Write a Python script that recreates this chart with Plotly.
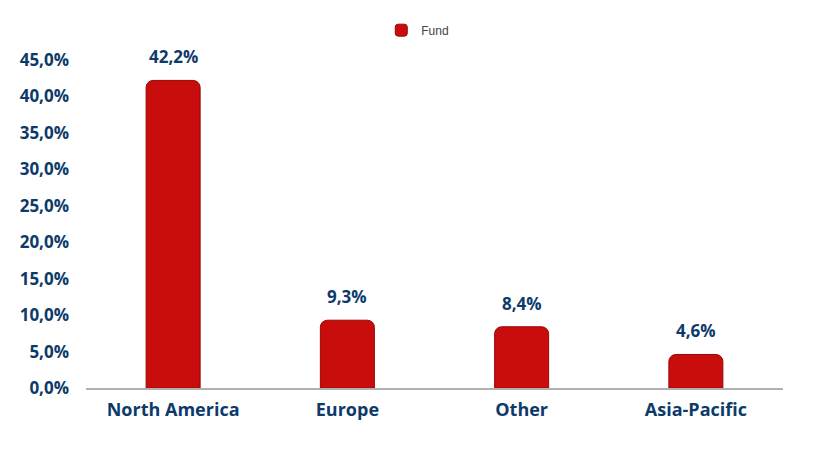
import plotly.graph_objects as go

regions = ["North America", "Europe", "Other", "Asia-Pacific"]
fund = [42.2, 9.3, 8.4, 4.6]
tick_vals = [0, 5, 10, 15, 20, 25, 30, 35, 40, 45]
tick_text = ["0,0%", "5,0%", "10,0%", "15,0%", "20,0%", "25,0%", "30,0%", "35,0%", "40,0%", "45,0%"]

navy = "#0d3a6b"
labels = [f"{v:.1f}%".replace(".", ",") for v in fund]
font_main = "Open Sans"

fig = go.Figure()
fig.add_trace(go.Bar(
    x=regions, y=fund, name="Fund",
    marker=dict(color="#c90c0c", line=dict(color="#9a0606", width=1), cornerradius=7),
    showlegend=True,
))

# value labels sit well above each bar
for r, v, t in zip(regions, fund, labels):
    fig.add_annotation(x=r, y=v, text=t, showarrow=False, yanchor="bottom", yshift=10,
                       font=dict(family=font_main, size=17, color=navy, weight="bold"))

# page body has an 8px margin, so margins are trimmed by that
fig.update_layout(
    width=828, height=472,
    margin=dict(l=78, r=53, t=52, b=92, autoexpand=False),
    plot_bgcolor="white", paper_bgcolor="white",
    bargap=0.69,
    showlegend=True,
    legend=dict(orientation="h", x=0.476, xanchor="center", y=0.953, yanchor="middle",
                yref="container", font=dict(family="Liberation Sans", size=12, color="#444444"),
                itemwidth=30),
)
fig.update_xaxes(showline=True, linecolor="#b0b0b0", linewidth=2, ticks="", ticklabelstandoff=4,
                 tickfont=dict(family=font_main, size=18, color=navy, weight="bold"))
fig.update_yaxes(range=[0, 45], tickvals=tick_vals, ticktext=tick_text, showgrid=False,
                 zeroline=False, showline=False, ticks="", ticklabelstandoff=16,
                 tickfont=dict(family=font_main, size=17, color=navy, weight="bold"))

fig.write_html("out.html")
